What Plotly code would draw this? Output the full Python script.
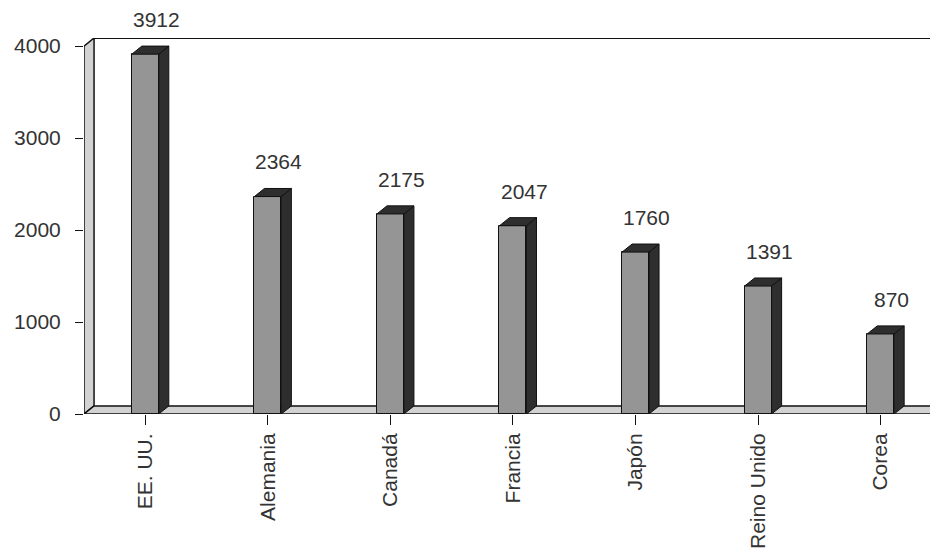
import plotly.graph_objects as go

countries = ["EE. UU.", "Alemania", "Canadá", "Francia", "Japón", "Reino Unido", "Corea"]
values = [3912, 2364, 2175, 2047, 1760, 1391, 870]
y_ticks = [0, 1000, 2000, 3000, 4000]

FRONT = "#959595"
DARK = "#2e2e2e"
WALL = "#d2d2d2"
EDGE = "#111111"
TXT = "#333333"
FONT = "Liberation Sans, Arial"

W = 0.22      # ancho de la cara frontal
DX = 0.082    # profundidad 3D en x
DY = 88       # profundidad 3D en y
YMAX = 4000 + DY
X0 = -0.5
X1 = 6.468

idx = list(range(len(countries)))

fig = go.Figure()

# caras frontales
fig.add_trace(go.Bar(
    x=idx, y=values, width=W,
    marker=dict(color=FRONT, line=dict(color=EDGE, width=1)),
    hoverinfo="skip",
))

# caras laterales y superiores
side_x, side_y, top_x, top_y = [], [], [], []
for i, v in zip(idx, values):
    r = i + W / 2
    l = i - W / 2
    side_x += [r, r + DX, r + DX, r, r, None]
    side_y += [0, DY, v + DY, v, 0, None]
    top_x += [l, l + DX, r + DX, r, l, None]
    top_y += [v, v + DY, v + DY, v, v, None]

fig.add_trace(go.Scatter(x=side_x, y=side_y, mode="lines", fill="toself",
                         fillcolor=DARK, line=dict(color=EDGE, width=1), hoverinfo="skip"))
fig.add_trace(go.Scatter(x=top_x, y=top_y, mode="lines", fill="toself",
                         fillcolor=DARK, line=dict(color=EDGE, width=1), hoverinfo="skip"))

# etiquetas de valor
for i, v in zip(idx, values):
    fig.add_annotation(x=i + DX / 2 + 0.05, y=v + DY, text=str(v), showarrow=False,
                       xanchor="center", yanchor="bottom", yshift=13,
                       font=dict(family=FONT, size=21, color=TXT))

# paredes y suelo
shapes = [
    # pared lateral izquierda
    dict(type="path", xref="x", yref="y", layer="below",
         path=f"M {X0},0 L {X0},4000 L {X0+DX},{YMAX} L {X0+DX},{DY} Z",
         fillcolor=WALL, line=dict(color=EDGE, width=1.5)),
    # suelo
    dict(type="path", xref="x", yref="y", layer="below",
         path=f"M {X0},0 L {X0+DX},{DY} L {X1},{DY} L {X1},0 Z",
         fillcolor=WALL, line=dict(color=EDGE, width=1.5)),
    # borde superior de la pared de fondo
    dict(type="line", xref="x", yref="y", layer="below",
         x0=X0 + DX, x1=X1, y0=YMAX, y1=YMAX, line=dict(color=EDGE, width=2)),
]

# el navegador añade 8 px de margen al body
fig.update_layout(
    width=930, height=543,
    paper_bgcolor="white", plot_bgcolor="white",
    margin=dict(l=76, r=0, t=30, b=137),
    showlegend=False,
    shapes=shapes,
    bargap=0,
)

fig.update_xaxes(
    range=[X0, X1], tickvals=idx, ticktext=countries, automargin=False,
    tickangle=-90, ticks="outside", ticklen=10, tickcolor=EDGE,
    tickson="boundaries", showgrid=False, zeroline=False,
    showline=False,
    tickfont=dict(family=FONT, size=21, color=TXT),
)
fig.update_yaxes(
    range=[0, YMAX], tickvals=y_ticks, automargin=False,
    ticks="outside", ticklen=8, tickcolor=EDGE, ticklabelstandoff=10,
    showgrid=False, zeroline=False, showline=False,
    tickfont=dict(family=FONT, size=21, color=TXT),
)

fig.write_html("out.html")
